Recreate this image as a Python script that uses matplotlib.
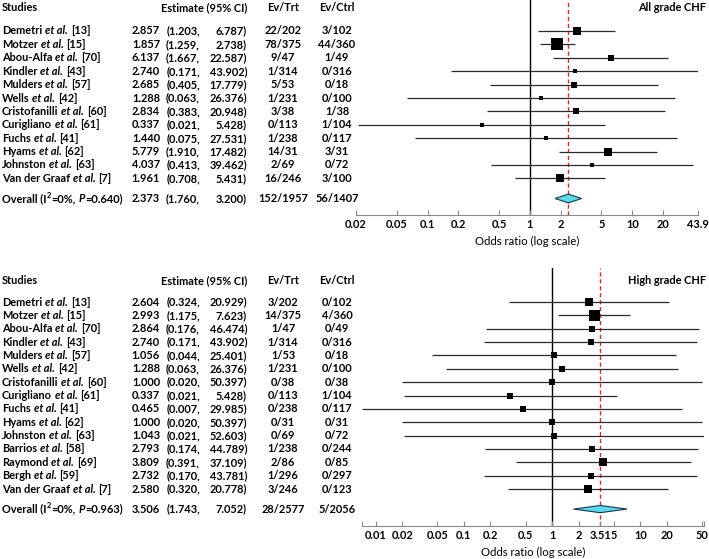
"""Forest plots of CHF odds ratios (all grade / high grade)."""
import numpy as np
import matplotlib
matplotlib.use('Agg')
import matplotlib.pyplot as plt
from matplotlib.patches import Polygon
from matplotlib.transforms import blended_transform_factory, offset_copy

plt.rcParams['font.family'] = ['Lato', 'DejaVu Sans']
plt.rcParams['font.weight'] = 'bold'

# ── All grade CHF ────────────────────────────────────────────────────────────
all_studies = ['Demetri', 'Motzer', 'Abou-Alfa', 'Kindler', 'Mulders', 'Wells',
               'Cristofanilli', 'Curigliano', 'Fuchs', 'Hyams', 'Johnston',
               'Van der Graaf']
all_refs = [13, 15, 70, 43, 57, 42, 60, 61, 41, 62, 63, 7]
all_or = [2.857, 1.857, 6.137, 2.740, 2.685, 1.288, 2.834, 0.337, 1.440, 5.779,
          4.037, 1.961]
all_lo = [1.203, 1.259, 1.667, 0.171, 0.405, 0.063, 0.383, 0.021, 0.075, 1.910,
          0.413, 0.708]
all_hi = [6.787, 2.738, 22.587, 43.902, 17.779, 26.376, 20.948, 5.428, 27.531,
          17.482, 39.462, 5.431]
all_trt = ['22/202', '78/375', '9/47', '1/314', '5/53', '1/231', '3/38', '0/113',
           '1/238', '14/31', '2/69', '16/246']
all_ctrl = ['3/102', '44/360', '1/49', '0/316', '0/18', '0/100', '1/38', '1/104',
            '0/117', '3/31', '0/72', '3/100']
all_overall = [2.373, 1.760, 3.200]
all_i2, all_p = 0, 0.640
all_tot = ['152/1957', '56/1407']
all_ticks = [0.02, 0.05, 0.1, 0.2, 0.5, 1, 2, 5, 10, 20, 43.9]

# ── High grade CHF ───────────────────────────────────────────────────────────
high_studies = ['Demetri', 'Motzer', 'Abou-Alfa', 'Kindler', 'Mulders', 'Wells',
                'Cristofanilli', 'Curigliano', 'Fuchs', 'Hyams', 'Johnston',
                'Barrios', 'Raymond', 'Bergh', 'Van der Graaf']
high_refs = [13, 15, 70, 43, 57, 42, 60, 61, 41, 62, 63, 58, 69, 59, 7]
high_or = [2.604, 2.993, 2.864, 2.740, 1.056, 1.288, 1.000, 0.337, 0.465, 1.000,
           1.043, 2.793, 3.809, 2.732, 2.580]
high_lo = [0.324, 1.175, 0.176, 0.171, 0.044, 0.063, 0.020, 0.021, 0.007, 0.020,
           0.021, 0.174, 0.391, 0.170, 0.320]
high_hi = [20.929, 7.623, 46.474, 43.902, 25.401, 26.376, 50.397, 5.428, 29.985,
           50.397, 52.603, 44.789, 37.109, 43.781, 20.778]
high_trt = ['3/202', '14/375', '1/47', '1/314', '1/53', '1/231', '0/38', '0/113',
            '0/238', '0/31', '0/69', '1/238', '2/86', '1/296', '3/246']
high_ctrl = ['0/102', '4/360', '0/49', '0/316', '0/18', '0/100', '0/38', '1/104',
             '0/117', '0/31', '0/72', '0/244', '0/85', '0/297', '0/123']
high_overall = [3.506, 1.743, 7.052]
high_i2, high_p = 0, 0.963
high_tot = ['28/2577', '5/2056']
high_ticks = [0.01, 0.02, 0.05, 0.1, 0.2, 0.5, 1, 2, 3.51, 5, 10, 20, 50]

W, H = 709, 559
FS = 7.9
GREY = '#8a8a8a'
SPACE = FS * 0.26 * 100 / 72   # width of a space, px


def rich(ax, renderer, x_px, y, parts):
    """Write a row of text pieces with mixed styles, left to right."""
    fig = ax.figure
    tr = blended_transform_factory(fig.transFigure, ax.transData)
    x = x_px
    for txt, style, gap in parts:
        x += gap
        kw = dict(fontsize=FS, va='center', ha='left', clip_on=False)
        t_tr = tr
        if style == 'italic':
            kw['fontstyle'] = 'italic'
        elif style == 'sup':
            kw['fontsize'] = FS * 0.68
            t_tr = offset_copy(tr, fig=fig, y=3.2, units='dots')
        t = ax.text(x / W, y, txt, transform=t_tr, **kw)
        x += t.get_window_extent(renderer).width


def panel(fig, rect_px, row0_px, step_px, header_px, title,
          studies, refs, ors, los, his, trt, ctrl, overall, i2, p, tot,
          ticks, xlim, max_side, diamond_h, end_ticks=False):
    renderer = fig.canvas.get_renderer()
    x0, y0, x1, y1 = rect_px
    ax = fig.add_axes([x0 / W, 1 - y1 / H, (x1 - x0) / W, (y1 - y0) / H])
    n = len(studies)
    ax.set_xscale('log')
    ax.set_xlim(*xlim)
    ax.set_ylim((y1 - row0_px) / step_px, (y0 - row0_px) / step_px)

    ors, los, his = map(np.asarray, (ors, los, his))
    ys = np.arange(n)
    # inverse-variance weight -> box size
    se = (np.log(his) - np.log(los)) / (2 * 1.96)
    w = 1 / se ** 2
    sides = max_side * (w / w.max()) ** 0.25

    ax.axvline(1, color='black', lw=1.0, zorder=1)
    ax.axvline(overall[0], color='#e0262a', lw=1.0, ls=(0, (3, 2)), zorder=1)
    ax.hlines(ys, los, his, color='#2a2a2a', lw=0.9, zorder=2)
    for y, o, s in zip(ys, ors, sides):
        ax.plot(o, y, marker='s', ms=s * 0.72, color='black', mec='black',
                mew=0, zorder=3)

    yo = n + 0.5
    est, lo, hi = overall
    dia = Polygon([(lo, yo), (est, yo - diamond_h), (hi, yo), (est, yo + diamond_h)],
                  closed=True, facecolor='#58dcec', edgecolor='#1b3550', lw=0.8,
                  zorder=4)
    ax.add_patch(dia)

    for s in ('top', 'left', 'right'):
        ax.spines[s].set_visible(False)
    ax.spines['bottom'].set_color(GREY)
    ax.spines['bottom'].set_linewidth(0.8)
    ax.set_yticks([])
    ax.xaxis.set_minor_locator(matplotlib.ticker.NullLocator())
    labs = ['%g' % t for t in ticks]
    if end_ticks:
        ticks = [xlim[0]] + list(ticks) + [xlim[1]]
        labs = [''] + labs + ['']
    ax.set_xticks(ticks)
    ax.set_xticklabels(labs)
    ax.tick_params(axis='x', direction='in', length=3.5, width=0.8, color=GREY,
                   labelsize=FS, pad=3)
    ax.set_xlabel('Odds ratio (log scale)', fontsize=FS + 0.3, labelpad=4)

    tr = blended_transform_factory(fig.transFigure, ax.transData)
    yh = (header_px - row0_px) / step_px
    kw = dict(transform=tr, fontsize=FS, va='center', clip_on=False)
    ax.text(2 / W, yh, 'Studies', ha='left', **kw)
    ax.text(247 / W, yh, 'Estimate (95% CI)', ha='right', **kw)
    ax.text(283 / W, yh, 'Ev/Trt', ha='center', **kw)
    ax.text(337 / W, yh, 'Ev/Ctrl', ha='center', **kw)
    ax.text(706 / W, yh, title, ha='right', **kw)

    for y, (s, r, o, l, h, a, b) in enumerate(zip(studies, refs, ors, los, his,
                                                  trt, ctrl)):
        rich(ax, renderer, 2, y, [(s, 'normal', 0), ('et al.', 'italic', SPACE),
                                  ('[%d]' % r, 'normal', SPACE)])
        ax.text(160 / W, y, '%.3f' % o, ha='right', **kw)
        ax.text(200 / W, y, '(%.3f,' % l, ha='right', **kw)
        ax.text(247 / W, y, '%.3f)' % h, ha='right', **kw)
        ax.text(283 / W, y, a, ha='center', **kw)
        ax.text(337 / W, y, b, ha='center', **kw)

    rich(ax, renderer, 2, yo, [('Overall (I', 'normal', 0), ('2', 'sup', 0.3),
                               ('=%d%%,' % i2, 'normal', 0.3),
                               ('P', 'italic', SPACE),
                               ('=%.3f)' % p, 'normal', 0.2)])
    ax.text(160 / W, yo, '%.3f' % est, ha='right', **kw)
    ax.text(200 / W, yo, '(%.3f,' % lo, ha='right', **kw)
    ax.text(247 / W, yo, '%.3f)' % hi, ha='right', **kw)
    ax.text(283 / W, yo, tot[0], ha='center', **kw)
    ax.text(337 / W, yo, tot[1], ha='center', **kw)
    return ax


fig = plt.figure(figsize=(W / 100, H / 100), dpi=100)

panel(fig, (356, 0, 698, 215), 31, 13.4, 7.5, 'All grade CHF',
      all_studies, all_refs, all_or, all_lo, all_hi, all_trt, all_ctrl,
      all_overall, all_i2, all_p, all_tot, all_ticks, (0.02, 43.9),
      max_side=12, diamond_h=0.33)

panel(fig, (362, 268, 704, 526), 302, 13.36, 281, 'High grade CHF',
      high_studies, high_refs, high_or, high_lo, high_hi, high_trt, high_ctrl,
      high_overall, high_i2, high_p, high_tot, high_ticks, (0.007, 52.603),
      max_side=11, diamond_h=0.27, end_ticks=True)

fig.savefig('out.png', dpi=100, facecolor='white')
